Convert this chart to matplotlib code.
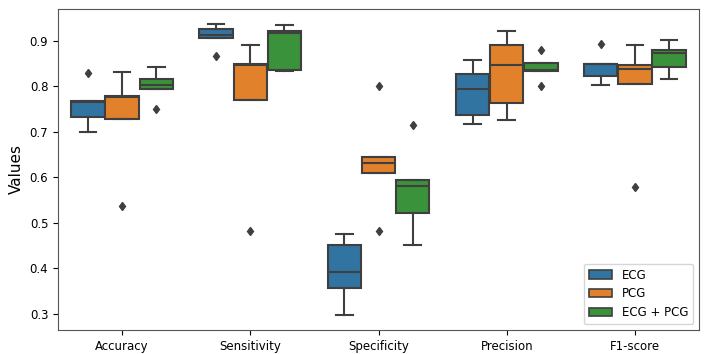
import matplotlib.pyplot as plt
from matplotlib.patches import Patch

# metrics on the x axis
metrics = ['Accuracy', 'Sensitivity', 'Specificity', 'Precision', 'F1-score']
groups = ['ECG', 'PCG', 'ECG + PCG']

# per-fold values (5 folds per box)
ecg = [
    [0.700, 0.733, 0.765, 0.767, 0.830],
    [0.867, 0.907, 0.913, 0.926, 0.938],
    [0.296, 0.357, 0.392, 0.450, 0.474],
    [0.718, 0.736, 0.793, 0.827, 0.857],
    [0.802, 0.822, 0.848, 0.849, 0.894],
]
pcg = [
    [0.537, 0.728, 0.776, 0.779, 0.832],
    [0.482, 0.769, 0.846, 0.850, 0.891],
    [0.482, 0.609, 0.632, 0.645, 0.801],
    [0.725, 0.764, 0.846, 0.890, 0.921],
    [0.578, 0.806, 0.838, 0.846, 0.891],
]
both = [
    [0.750, 0.794, 0.802, 0.816, 0.843],
    [0.833, 0.835, 0.918, 0.922, 0.934],
    [0.450, 0.522, 0.581, 0.593, 0.714],
    [0.801, 0.833, 0.836, 0.851, 0.880],
    [0.816, 0.843, 0.874, 0.880, 0.902],
]

colors = ['#3274a1', '#e1812c', '#3a923a']
gray = '#3f3f3f'

fig = plt.figure(figsize=(7.08, 3.54), dpi=100)
ax = fig.add_axes([58 / 708, 1 - 330 / 354, 641 / 708, 321 / 354])

width = 0.8 / 3
for k, (data, col) in enumerate(zip([ecg, pcg, both], colors)):
    pos = [i + (k - 1) * width for i in range(len(metrics))]
    ax.boxplot(data, positions=pos, widths=width * 0.98, patch_artist=True,
               manage_ticks=False,
               boxprops=dict(facecolor=col, edgecolor=gray, linewidth=1.5),
               medianprops=dict(color=gray, linewidth=1.5),
               whiskerprops=dict(color=gray, linewidth=1.5),
               capprops=dict(color=gray, linewidth=1.5),
               flierprops=dict(marker='d', markerfacecolor=gray,
                               markeredgecolor=gray, markersize=4.5))

ax.set_xticks(range(len(metrics)))
ax.set_xticklabels(metrics, fontsize=8.5)
ax.set_xlim(-0.5, len(metrics) - 0.5)
ax.set_yticks([0.3, 0.4, 0.5, 0.6, 0.7, 0.8, 0.9])
ax.tick_params(axis='y', labelsize=8.5)
# the x label sits partly below the figure edge, as in the original crop
ax.set_xlabel('Metric', fontsize=10)
ax.set_ylabel('Values', fontsize=11)
for s in ax.spines.values():
    s.set_color('#555555')

handles = [Patch(facecolor=c, edgecolor=gray, linewidth=1.2) for c in colors]
ax.legend(handles, groups, loc='lower right', fontsize=8.5)

fig.savefig('out.png', dpi=100)
